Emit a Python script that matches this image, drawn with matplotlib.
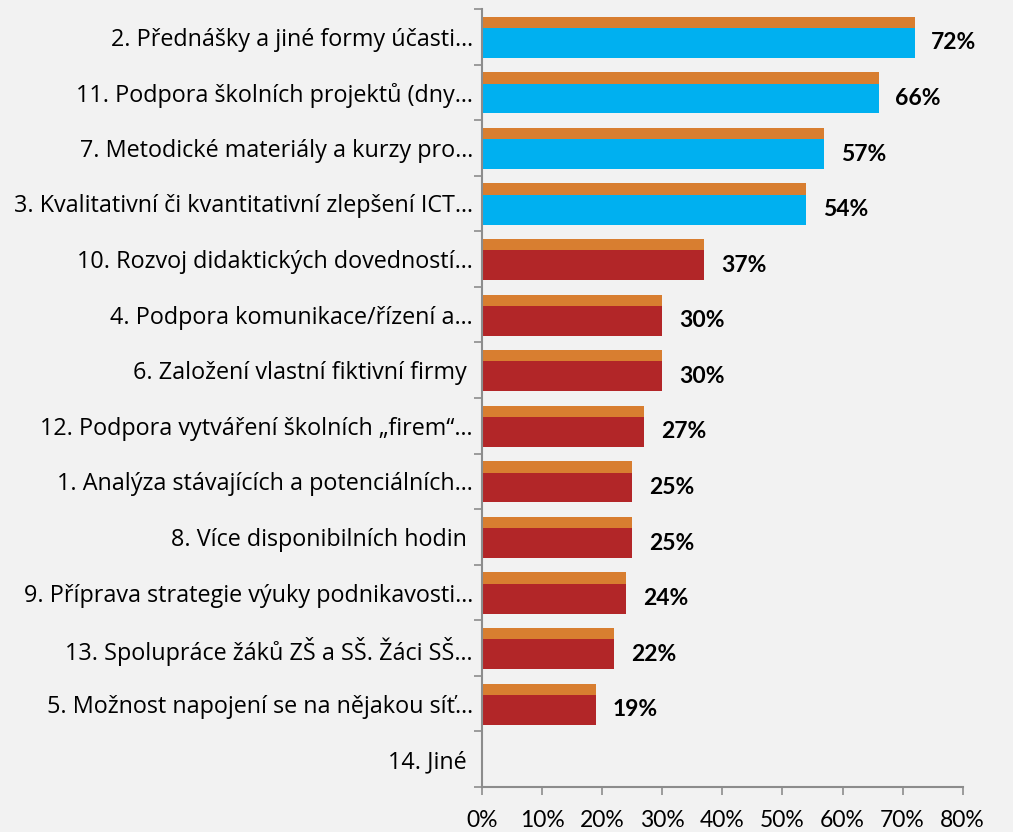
import matplotlib
matplotlib.use("Agg")
import matplotlib.pyplot as plt
import numpy as np

categories = [
    "2. Přednášky a jiné formy účasti…",
    "11. Podpora školních projektů (dny…",
    "7. Metodické materiály a kurzy pro…",
    "3. Kvalitativní či kvantitativní zlepšení ICT…",
    "10. Rozvoj didaktických dovedností…",
    "4. Podpora komunikace/řízení a…",
    "6. Založení vlastní fiktivní firmy ",
    "12. Podpora vytváření školních „firem“…",
    "1. Analýza stávajících a potenciálních…",
    "8. Více disponibilních hodin ",
    "9. Příprava strategie výuky podnikavosti…",
    "13. Spolupráce žáků ZŠ a SŠ. Žáci SŠ…",
    "5. Možnost napojení se na nějakou síť…",
    "14. Jiné ",
]
values = [72, 66, 57, 54, 37, 30, 30, 27, 25, 25, 24, 22, 19, None]
orange_values = [72, 66, 57, 54, 37, 30, 30, 27, 25, 25, 24, 22, 19, None]
highlight_count = 4
xticks = [0, 10, 20, 30, 40, 50, 60, 70, 80]

BG = "#F2F2F2"
BLUE = "#00B0F0"
RED = "#B22628"
ORANGE = "#D87E30"
AXIS = "#8C8C8C"

W, H = 1013, 832
fig = plt.figure(figsize=(W / 100, H / 100), dpi=100, facecolor=BG)
ax = fig.add_axes([482 / W, 1 - 787 / H, (962.7 - 482) / W, (787 - 9) / H])
ax.set_facecolor(BG)

n = len(categories)
y = np.arange(n)
vals = np.array([np.nan if v is None else v for v in values], dtype=float)
ovals = np.array([np.nan if v is None else v for v in orange_values], dtype=float)
colors = [BLUE if i < highlight_count else RED for i in range(n)]

mask = ~np.isnan(vals)
ax.barh(y[mask] - 0.2585, ovals[mask], height=0.203, color=ORANGE, linewidth=0)
ax.barh(y[mask] + 0.1115, vals[mask], height=0.537, color=np.array(colors)[mask], linewidth=0)

for yi, v in zip(y[mask], vals[mask]):
    ax.annotate(f"{v:.0f}%", xy=(v, yi + 0.1115), xytext=(12, 0), textcoords="offset points",
                ha="left", va="center", fontsize=16.5, fontweight="bold",
                family="Lato", color="black")

ax.set_xlim(0, 80)
ax.set_ylim(n - 0.5, -0.5)
ax.set_xticks(xticks)
ax.set_xticklabels([f"{t}%" for t in xticks], fontsize=16.5, family="Lato")
ax.set_yticks(y)
ax.set_yticklabels(categories, fontsize=16.8, family="Open Sans")
ax.set_yticks(np.arange(-0.5, n, 1.0), minor=True)

ax.tick_params(axis="y", which="major", length=0, pad=6.5)
ax.tick_params(axis="y", which="minor", length=6, width=1.2, color=AXIS)
ax.tick_params(axis="x", which="major", length=6, width=1.2, color=AXIS, pad=10.5)

for s in ["top", "right"]:
    ax.spines[s].set_visible(False)
for s in ["left", "bottom"]:
    ax.spines[s].set_color(AXIS)
    ax.spines[s].set_linewidth(1.5)

fig.savefig("out.png", dpi=100, facecolor=BG)
